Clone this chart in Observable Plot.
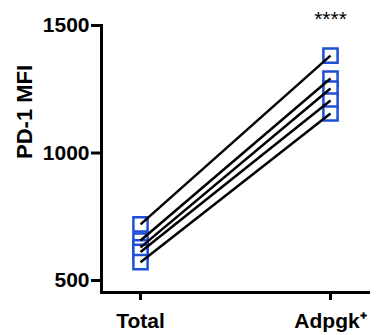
<!DOCTYPE html>
<html>
<head>
<meta charset="utf-8">
<script src="https://cdn.jsdelivr.net/npm/d3@7"></script>
<script src="https://cdn.jsdelivr.net/npm/@observablehq/plot@0.6"></script>
<style>
  html, body { margin: 0; padding: 0; background: #fff; }
</style>
</head>
<body>
<div id="chart"></div>
<script>
const categories = ["Total", "Adpgk⁺"];
const totalMFI = [720, 657, 630, 612, 572];
const adpgkMFI = [1382, 1292, 1253, 1206, 1155];
const yTicks = [500, 1000, 1500];
const yLabel = "PD-1 MFI";
const significance = "****";

const pairs = totalMFI.map((v, i) => ({ y1: v, y2: adpgkMFI[i] }));
const points = [
  ...totalMFI.map(v => ({ cat: categories[0], v })),
  ...adpgkMFI.map(v => ({ cat: categories[1], v }))
];

const chart = Plot.plot({
  width: 376,
  height: 335,
  marginLeft: 101,
  marginRight: 8,
  marginTop: 25,
  marginBottom: 43,
  style: { fontFamily: "'Liberation Sans', Arial, sans-serif", background: "#fff" },
  x: { type: "point", domain: categories, range: [140, 330], padding: 0 },
  y: { domain: [453, 1500] },
  marks: [
    Plot.frame({ anchor: "left", strokeWidth: 3, stroke: "#000" }),
    Plot.frame({ anchor: "bottom", strokeWidth: 3, stroke: "#000" }),
    Plot.axisY({ ticks: yTicks, tickFormat: "d", tickSize: 10, tickPadding: 2, strokeWidth: 3, fontSize: 21, fontWeight: "bold", label: null, fill: "#000" }),
    Plot.axisX({ tickSize: 8, tickPadding: 13, strokeWidth: 3, fontSize: 21, fontWeight: "bold", label: null, fill: "#000" }),
    Plot.dot(points, { x: "cat", y: "v", symbol: "square", r: 8, stroke: "#1f4fd6", strokeWidth: 2.5, fill: "#fff" }),
    Plot.link(pairs, { x1: () => categories[0], x2: () => categories[1], y1: "y1", y2: "y2", stroke: "#000", strokeWidth: 2.5 }),
    Plot.text([significance], { x: () => categories[1], y: () => 1500, text: d => d, dy: -6, fontSize: 21, fill: "#000" }),
    Plot.text([yLabel], { frameAnchor: "left", dx: -77, rotate: -90, text: d => d, fontSize: 22, fontWeight: "bold", fill: "#000" })
  ]
});
document.getElementById("chart").appendChild(chart);
</script>
</body>
</html>
